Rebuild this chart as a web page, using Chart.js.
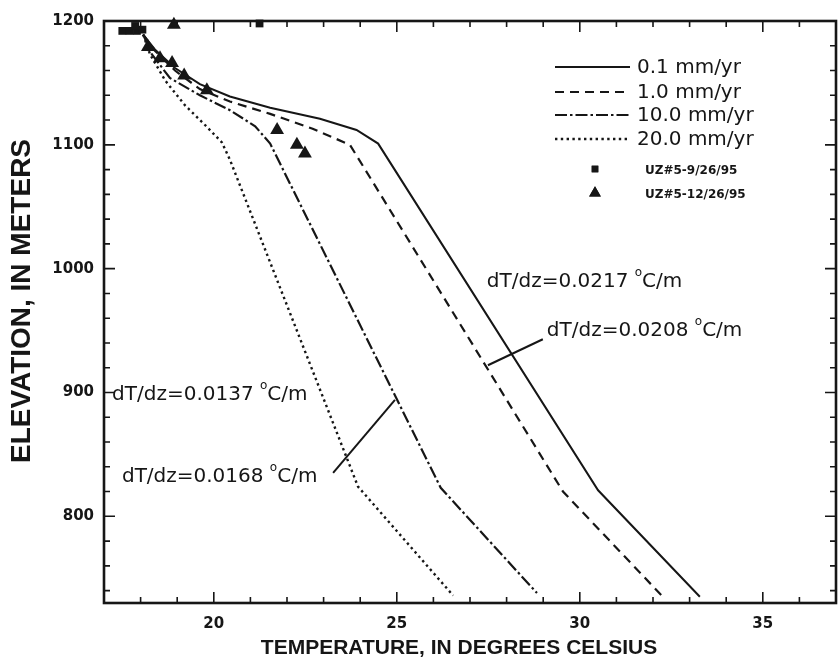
<!DOCTYPE html>
<html>
<head>
<meta charset="utf-8">
<script src="https://cdn.jsdelivr.net/npm/chart.js@4/dist/chart.umd.min.js"></script>
<style>
  html, body { margin: 0; padding: 0; background: #fff; overflow: hidden; }
  #wrap { width: 838px; height: 667px; }
  canvas { display: block; }
</style>
</head>
<body>
<div id="wrap"><canvas id="c" width="838" height="667"></canvas></div>
<script>
// Simulated temperature profiles (deg C) against elevation (m) for four percolation rates
const rateLabels = ['0.1 mm/yr', '1.0 mm/yr', '10.0 mm/yr', '20.0 mm/yr'];

const temp01 = [18.07, 18.39, 18.94, 19.62, 20.44, 21.54, 22.90, 23.90, 24.49, 30.50, 33.28];
const elev01 = [1189, 1177, 1162, 1149, 1139, 1130, 1121, 1112, 1101, 821, 735];

const temp1 = [18.07, 18.39, 18.94, 19.62, 20.44, 21.54, 22.70, 23.72, 29.54, 32.27];
const elev1 = [1189, 1176, 1160, 1145, 1135, 1125, 1113, 1100, 820, 735];

const temp10 = [18.07, 18.31, 18.80, 19.62, 20.44, 21.13, 21.54, 26.20, 28.83];
const elev10 = [1189, 1173, 1154, 1140, 1128, 1115, 1101, 823, 738];

const temp20 = [18.07, 18.26, 18.67, 19.21, 19.76, 20.22, 20.44, 23.94, 26.54];
const elev20 = [1189, 1173, 1152, 1132, 1116, 1102, 1088, 824, 736];

// Measured profiles in borehole UZ#5
const obsLabels = ['UZ#5-9/26/95', 'UZ#5-12/26/95'];
const sepTemp = [17.50, 17.70, 17.90, 18.05, 17.85, 21.25];
const sepElev = [1192, 1192, 1192, 1193, 1196, 1198];
const decTemp = [18.91, 18.20, 18.53, 18.86, 19.19, 19.81, 21.73, 22.27, 22.49];
const decElev = [1197, 1179, 1170, 1166, 1156, 1144, 1112, 1100, 1093];

// Axes
const xTickLabels = [20, 25, 30, 35];
const yTickLabels = [800, 900, 1000, 1100, 1200];
const xRange = [17, 37];
const yRange = [730, 1200];
const xTitle = 'TEMPERATURE, IN DEGREES CELSIUS';
const yTitle = 'ELEVATION, IN METERS';

const INK = '#161616';
const SANS = '"Liberation Sans", Arial, Helvetica, sans-serif';
const WIDE = '"DejaVu Sans", "Liberation Sans", sans-serif';

const pts = (xs, ys) => xs.map((x, i) => ({ x, y: ys[i] }));

function lineSet(label, xs, ys, dash, width) {
  return {
    label, data: pts(xs, ys), showLine: true, fill: false,
    borderColor: INK, borderWidth: width, borderDash: dash,
    pointRadius: 0, tension: 0, clip: false
  };
}

const datasets = [
  lineSet(rateLabels[0], temp01, elev01, [], 2),
  lineSet(rateLabels[1], temp1, elev1, [9, 6], 2.2),
  lineSet(rateLabels[2], temp10, elev10, [12, 3, 2.5, 3], 2.2),
  lineSet(rateLabels[3], temp20, elev20, [2.4, 3.4], 2.4),
  {
    label: obsLabels[0], data: pts(sepTemp, sepElev), showLine: false,
    pointStyle: 'rect', pointRadius: 5.5, backgroundColor: INK, borderColor: INK,
    borderWidth: 0, clip: false
  },
  {
    label: obsLabels[1], data: pts(decTemp, decElev), showLine: false,
    pointStyle: 'triangle', pointRadius: 8, backgroundColor: INK, borderColor: INK,
    borderWidth: 0, clip: false
  }
];

// Frame with inward-pointing ticks on all four sides, plus the axis titles
const framePlugin = {
  id: 'frame',
  afterDatasetsDraw(chart, args, opts) {
    const { ctx, chartArea: a, scales: { x, y } } = chart;
    ctx.save();
    ctx.strokeStyle = INK;
    ctx.lineWidth = 1.6;
    ctx.beginPath();
    for (let t = xRange[0] + 1; t < xRange[1]; t++) {
      const px = x.getPixelForValue(t);
      const len = xTickLabels.includes(t) ? 11 : 6;
      ctx.moveTo(px, a.bottom); ctx.lineTo(px, a.bottom - len);
      ctx.moveTo(px, a.top); ctx.lineTo(px, a.top + len);
    }
    for (let e = 740; e < yRange[1]; e += 20) {
      const py = y.getPixelForValue(e);
      const len = yTickLabels.includes(e) ? 11 : 6;
      ctx.moveTo(a.left, py); ctx.lineTo(a.left + len, py);
      ctx.moveTo(a.right, py); ctx.lineTo(a.right - len, py);
    }
    ctx.stroke();
    ctx.lineWidth = 2.6;
    ctx.strokeRect(a.left, a.top, a.right - a.left, a.bottom - a.top);

    ctx.fillStyle = INK;
    ctx.textAlign = 'center';
    ctx.textBaseline = 'middle';
    ctx.font = 'bold 21px ' + SANS;
    ctx.fillText(xTitle, opts.xTitleAt[0], opts.xTitleAt[1]);
    ctx.translate(opts.yTitleAt[0], opts.yTitleAt[1]);
    ctx.rotate(-Math.PI / 2);
    ctx.font = 'bold 28px ' + SANS;
    ctx.fillText(yTitle, 0, 0);
    ctx.restore();
  }
};

// Legend drawn inside the plot, upper right
const keyPlugin = {
  id: 'key',
  afterDatasetsDraw(chart, args, opts) {
    const { ctx } = chart;
    ctx.save();
    ctx.fillStyle = INK;
    ctx.strokeStyle = INK;
    ctx.textBaseline = 'middle';
    ctx.textAlign = 'left';
    chart.data.datasets.forEach((ds, i) => {
      if (ds.showLine) {
        const yy = opts.lineRows[i];
        ctx.lineWidth = ds.borderWidth;
        ctx.setLineDash(ds.borderDash);
        ctx.beginPath();
        ctx.moveTo(opts.lineX0, yy); ctx.lineTo(opts.lineX1, yy);
        ctx.stroke();
        ctx.setLineDash([]);
        ctx.font = '20px ' + WIDE;
        ctx.fillText(ds.label, opts.textX, yy + 1);
      } else {
        const yy = opts.markRows[i - 4];
        Chart.helpers.drawPoint(ctx, {
          pointStyle: ds.pointStyle, radius: ds.pointRadius * 0.85, rotation: 0, borderWidth: 0
        }, opts.markX, yy);
        ctx.fill();
        ctx.font = 'bold 12px ' + WIDE;
        ctx.fillText(ds.label, opts.markTextX, yy + 2);
      }
    });
    ctx.restore();
  }
};

// Gradient annotations with optional leader lines
const notePlugin = {
  id: 'notes',
  afterDatasetsDraw(chart, args, opts) {
    const { ctx, scales: { x, y } } = chart;
    ctx.save();
    ctx.fillStyle = INK;
    ctx.strokeStyle = INK;
    ctx.textBaseline = 'middle';
    ctx.textAlign = 'left';
    opts.items.forEach(n => {
      let px = x.getPixelForValue(n.at[0]);
      const py = y.getPixelForValue(n.at[1]);
      ctx.font = '20px ' + WIDE;
      ctx.fillText(n.pre, px, py);
      px += ctx.measureText(n.pre).width;
      ctx.font = '12px ' + WIDE;
      ctx.fillText('o', px, py - 9);
      px += ctx.measureText('o').width;
      ctx.font = '20px ' + WIDE;
      ctx.fillText(n.post, px, py);
      if (n.leader) {
        ctx.lineWidth = 2;
        ctx.beginPath();
        ctx.moveTo(x.getPixelForValue(n.leader[0][0]), y.getPixelForValue(n.leader[0][1]));
        ctx.lineTo(x.getPixelForValue(n.leader[1][0]), y.getPixelForValue(n.leader[1][1]));
        ctx.stroke();
      }
    });
    ctx.restore();
  }
};

new Chart(document.getElementById('c'), {
  type: 'scatter',
  data: { datasets },
  plugins: [framePlugin, keyPlugin, notePlugin],
  options: {
    responsive: false,
    animation: false,
    devicePixelRatio: 1,
    layout: { autoPadding: false, padding: { top: 21, right: 2, left: 0, bottom: 0 } },
    plugins: {
      legend: { display: false },
      tooltip: { enabled: false },
      frame: { xTitleAt: [459, 648], yTitleAt: [22, 301] },
      key: {
        lineX0: 555, lineX1: 630, textX: 637,
        lineRows: [67, 92, 115, 139],
        markX: 595, markTextX: 645, markRows: [169, 193]
      },
      notes: {
        items: [
          { pre: 'dT/dz=0.0217 ', post: 'C/m', at: [27.46, 989] },
          { pre: 'dT/dz=0.0208 ', post: 'C/m', at: [29.10, 950], leader: [[28.99, 943], [27.49, 922]] },
          { pre: 'dT/dz=0.0137 ', post: 'C/m', at: [17.22, 898] },
          { pre: 'dT/dz=0.0168 ', post: 'C/m', at: [17.49, 832], leader: [[23.26, 835], [24.95, 894]] }
        ]
      }
    },
    scales: {
      x: {
        type: 'linear', position: 'bottom',
        min: xRange[0], max: xRange[1],
        grid: { display: false, drawTicks: false },
        border: { display: false },
        afterBuildTicks: s => { s.ticks = xTickLabels.map(v => ({ value: v })); },
        afterFit: s => { s.height = 64; s.paddingLeft = 0; s.paddingRight = 0; },
        ticks: {
          color: INK, font: { family: WIDE, size: 15, weight: 'bold' }, padding: 12, maxRotation: 0,
          callback: v => String(v)
        }
      },
      y: {
        type: 'linear', position: 'left',
        min: yRange[0], max: yRange[1],
        grid: { display: false, drawTicks: false },
        border: { display: false },
        afterBuildTicks: s => { s.ticks = yTickLabels.map(v => ({ value: v })); },
        afterFit: s => { s.width = 104; s.paddingTop = 0; s.paddingBottom = 0; },
        ticks: {
          color: INK, font: { family: WIDE, size: 15, weight: 'bold' }, padding: 10,
          callback: v => String(v)
        }
      }
    }
  }
});
</script>
</body>
</html>
